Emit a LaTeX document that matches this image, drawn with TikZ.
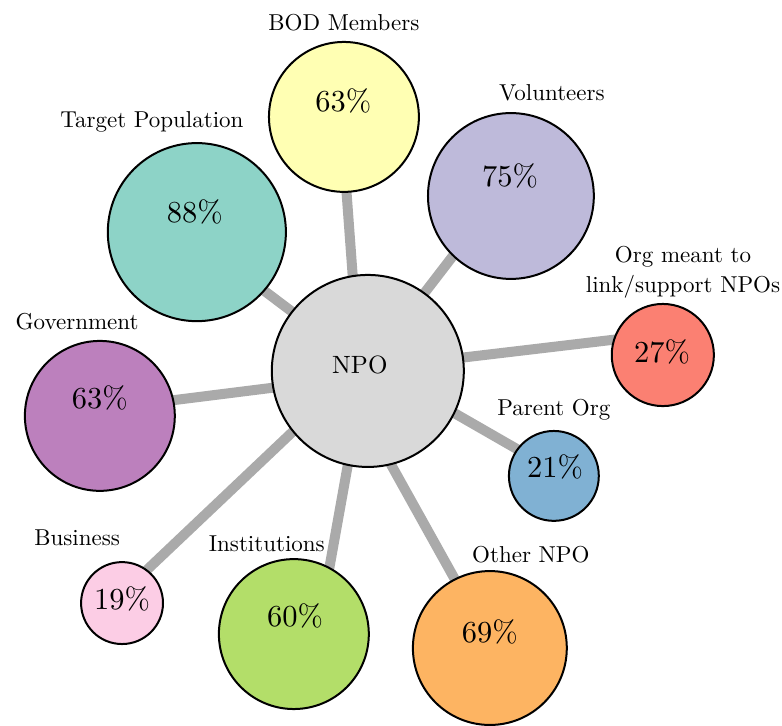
\documentclass[tikz,border=0pt]{standalone}
\usepackage{fontspec}
\setmainfont{lmroman10-regular}[Extension=.otf]
\usepackage{xcolor}
\usepackage{tikz}
\usetikzlibrary{backgrounds}

% Set3 palette
\definecolor{npogray}{HTML}{D9D9D9}
\definecolor{bodyellow}{HTML}{FFFFB3}
\definecolor{volpurple}{HTML}{BEBADA}
\definecolor{targetteal}{HTML}{8DD3C7}
\definecolor{govmagenta}{HTML}{BC80BD}
\definecolor{orgsalmon}{HTML}{FB8072}
\definecolor{parentblue}{HTML}{80B1D3}
\definecolor{busipink}{HTML}{FCCDE5}
\definecolor{instgreen}{HTML}{B3DE69}
\definecolor{otherorange}{HTML}{FDB462}
\definecolor{linkgray}{HTML}{AAAAAA}

\begin{document}
\begin{tikzpicture}[
    bubble/.style={circle, draw=black, line width=2pt, inner sep=0pt},
    pct/.style={font=\fontsize{30.5}{33}\selectfont},
    grouplabel/.style={anchor=base, font=\fontsize{23}{31}\selectfont},
    link/.style={line width=10pt, draw=linkgray, shorten <=-6pt, shorten >=-6pt}
]
    \useasboundingbox (0, 0) rectangle (27.49, 25.52);

    % Center
    \node[bubble, fill=npogray, minimum size=6.75cm] (npo) at (12.93, 12.48) {};
    \node[font=\fontsize{25}{28}\selectfont] (npo-t) at (12.65, 12.69) {NPO};

    % Partner groups
    \node[bubble, fill=bodyellow, minimum size=5.27cm] (bod) at (12.09, 21.41) {};
    \node[bubble, fill=volpurple, minimum size=5.83cm] (vol) at (17.96, 18.63) {};
    \node[bubble, fill=targetteal, minimum size=6.26cm] (target) at (6.92, 17.36) {};
    \node[bubble, fill=govmagenta, minimum size=5.27cm] (gov) at (3.51, 10.90) {};
    \node[bubble, fill=orgsalmon, minimum size=3.59cm] (org) at (23.30, 13.04) {};
    \node[bubble, fill=parentblue, minimum size=3.16cm] (parent) at (19.47, 8.79) {};
    \node[bubble, fill=busipink, minimum size=2.88cm] (busi) at (4.29, 4.32) {};
    \node[bubble, fill=instgreen, minimum size=5.27cm] (inst) at (10.33, 3.23) {};
    \node[bubble, fill=otherorange, minimum size=5.41cm] (other) at (17.22, 2.74) {};

    % Shares
    \node[pct] (bod-p) at (12.07, 21.97) {63\%};
    \node[pct] (vol-p) at (17.93, 19.33) {75\%};
    \node[pct] (target-p) at (6.85, 18.07) {88\%};
    \node[pct] (gov-p) at (3.51, 11.53) {63\%};
    \node[pct] (org-p) at (23.27, 13.15) {27\%};
    \node[pct] (parent-p) at (19.51, 9.10) {21\%};
    \node[pct] (busi-p) at (4.29, 4.46) {19\%};
    \node[pct] (inst-p) at (10.37, 3.87) {60\%};
    \node[pct] (other-p) at (17.22, 3.30) {69\%};

    % Names
    \node[grouplabel] (bod-l) at (12.09, 24.43) {BOD Members};
    \node[grouplabel] (vol-l) at (19.40, 21.97) {Volunteers};
    \node[grouplabel] (target-l) at (5.34, 21.05) {Target Population};
    \node[grouplabel] (gov-l) at (2.71, 13.95) {Government};
    \node[grouplabel, align=center] (org-l) at (24.01, 15.22) {Org meant to\\link/support NPOs};
    \node[grouplabel] (parent-l) at (19.47, 10.93) {Parent Org};
    \node[grouplabel] (busi-l) at (2.71, 6.36) {Business};
    \node[grouplabel] (inst-l) at (9.38, 6.15) {Institutions};
    \node[grouplabel] (other-l) at (18.66, 5.76) {Other NPO};

    % Spokes, behind the circles
    \begin{pgfonlayer}{background}
        \draw[link] (npo.99) -- (bod.272);
        \draw[link] (npo.54) -- (vol.226);
        \draw[link] (npo.142) -- (target.319);
        \draw[link] (npo.190) -- (gov.12);
        \draw[link] (npo.8) -- (org.163);
        \draw[link] (npo.-26) -- (parent.144);
        \draw[link] (npo.-76) -- (other.117);
        \draw[link] (npo.-102) -- (inst.62);
        \draw[link] (npo.219) -- (busi.53);
    \end{pgfonlayer}
\end{tikzpicture}
\end{document}
